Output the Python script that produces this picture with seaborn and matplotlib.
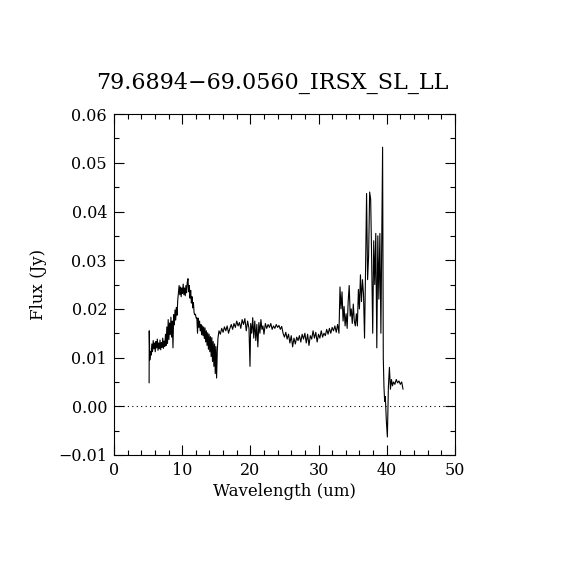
import numpy as np
import pandas as pd
import matplotlib
matplotlib.use("Agg")
import matplotlib.pyplot as plt
from matplotlib.ticker import MultipleLocator
import seaborn as sns

title = "79.6894\u221269.0560_IRSX_SL_LL"

# spectrum: wavelength (um) and flux (Jy)
wavelength = [
    5.15, 5.17, 5.25, 5.35, 5.45, 5.55, 5.65, 5.75, 5.85, 5.95, 6.05, 6.15, 6.25, 6.35, 6.45,
    6.55, 6.65, 6.75, 6.85, 6.95, 7.05, 7.15, 7.25, 7.35, 7.45, 7.55, 7.65, 7.75, 7.85, 7.95,
    8.05, 8.15, 8.25, 8.35, 8.45, 8.55, 8.65, 8.75, 8.85, 8.95, 9.05, 9.15, 9.25, 9.35, 9.45,
    9.55, 9.65, 9.75, 9.85, 9.95, 10.05, 10.15, 10.25, 10.35, 10.45, 10.55, 10.65, 10.75, 10.85,
    10.95, 11.05, 11.15, 11.25, 11.35, 11.45, 11.55, 11.65, 11.75, 11.85, 11.95, 12.05, 12.15,
    12.25, 12.35, 12.45, 12.55, 12.65, 12.75, 12.85, 12.95, 13.05, 13.15, 13.25, 13.35, 13.45,
    13.55, 13.65, 13.75, 13.85, 13.95, 14.05, 14.15, 14.25, 14.35, 14.45, 14.55, 14.65, 14.75,
    14.85, 14.95, 15.05, 15.15, 15.25,
    15.4, 15.6, 15.8, 16.0, 16.2, 16.4, 16.6, 16.8, 17.0, 17.2, 17.4, 17.6, 17.8, 18.0, 18.2,
    18.4, 18.6, 18.8, 19.0, 19.2, 19.4, 19.6, 19.8, 19.95, 20.05, 20.2, 20.35, 20.5, 20.65,
    20.8, 20.95, 21.1, 21.25, 21.4, 21.55, 21.7, 21.85, 22.0, 22.2, 22.4, 22.6, 22.8, 23.0,
    23.2, 23.4, 23.6, 23.8, 24.0, 24.2, 24.4, 24.6, 24.8, 25.0, 25.2, 25.4, 25.6, 25.8, 26.0,
    26.2, 26.4, 26.6, 26.8, 27.0, 27.2, 27.4, 27.6, 27.8, 28.0, 28.2, 28.4, 28.6, 28.8, 29.0,
    29.2, 29.4, 29.6, 29.8, 30.0, 30.2, 30.4, 30.6, 30.8, 31.0, 31.2, 31.4, 31.6, 31.8, 32.0,
    32.2, 32.4, 32.6, 32.8, 33.0, 33.15, 33.3, 33.45, 33.6, 33.75, 33.9, 34.05, 34.2, 34.35,
    34.5, 34.65, 34.8, 34.95, 35.1, 35.25, 35.4, 35.55, 35.7, 35.85, 36.0, 36.15, 36.3, 36.45,
    36.6, 36.75, 36.9, 37.05, 37.2, 37.35, 37.5, 37.65, 37.8, 37.95, 38.1, 38.25, 38.4, 38.55,
    38.7, 38.85, 39.0, 39.15, 39.4, 39.5, 39.6, 39.7, 39.8, 39.95, 40.1, 40.25, 40.4, 40.55,
    40.7, 40.85, 41.0, 41.2, 41.4, 41.6, 41.8, 42.0, 42.2, 42.4,
]
flux = [
    0.0048, 0.0155, 0.0095, 0.0112, 0.0105, 0.0128, 0.0112, 0.0135, 0.0118, 0.0130, 0.0112,
    0.0133, 0.0120, 0.0138, 0.0115, 0.0130, 0.0118, 0.0136, 0.0116, 0.0131, 0.0121, 0.0140,
    0.0119, 0.0134, 0.0123, 0.0148, 0.0125, 0.0163, 0.0129, 0.0178, 0.0137, 0.0171, 0.0147,
    0.0183, 0.0142, 0.0175, 0.0120, 0.0188, 0.0167, 0.0198, 0.0177, 0.0203, 0.0187, 0.0218,
    0.0232, 0.0248, 0.0229, 0.0245, 0.0225, 0.0243, 0.0232, 0.0251, 0.0229, 0.0243, 0.0227,
    0.0248, 0.0233, 0.0255, 0.0262, 0.0235, 0.0248, 0.0222, 0.0238, 0.0212, 0.0225, 0.0202,
    0.0213, 0.0192, 0.0188, 0.0189, 0.0181, 0.0182, 0.0150, 0.0181, 0.0162, 0.0175, 0.0155,
    0.0168, 0.0147, 0.0165, 0.0145, 0.0163, 0.0139, 0.0161, 0.0132, 0.0155, 0.0125, 0.0151,
    0.0117, 0.0148, 0.0112, 0.0143, 0.0102, 0.0141, 0.0092, 0.0133, 0.0082, 0.0128, 0.0067,
    0.0123, 0.0058, 0.0113, 0.0140,
    0.0155, 0.0148, 0.0160, 0.0152, 0.0163, 0.0155, 0.0165, 0.0150, 0.0160, 0.0168, 0.0158,
    0.0170, 0.0162, 0.0175, 0.0165, 0.0172, 0.0160, 0.0178, 0.0168, 0.0180, 0.0155, 0.0175,
    0.0160, 0.0082, 0.0170, 0.0150, 0.0182, 0.0140, 0.0175, 0.0135, 0.0168, 0.0122, 0.0172,
    0.0150, 0.0178, 0.0158, 0.0165, 0.0148, 0.0170, 0.0160, 0.0168, 0.0162, 0.0170, 0.0158,
    0.0165, 0.0160, 0.0168, 0.0162, 0.0166, 0.0158, 0.0164, 0.0150, 0.0142, 0.0152, 0.0138,
    0.0148, 0.0130, 0.0145, 0.0122, 0.0140, 0.0128, 0.0142, 0.0135, 0.0145, 0.0132, 0.0148,
    0.0138, 0.0150, 0.0130, 0.0148, 0.0125, 0.0145, 0.0138, 0.0155, 0.0140, 0.0152, 0.0132,
    0.0148, 0.0140, 0.0155, 0.0142, 0.0150, 0.0145, 0.0158, 0.0148, 0.0160, 0.0150, 0.0162,
    0.0155, 0.0165, 0.0152, 0.0168, 0.0150, 0.0245, 0.0200, 0.0235, 0.0175, 0.0205, 0.0165,
    0.0190, 0.0160, 0.0215, 0.0248, 0.0185, 0.0200, 0.0170, 0.0210, 0.0175, 0.0165, 0.0190,
    0.0165, 0.0240, 0.0200, 0.0270, 0.0215, 0.0260, 0.0230, 0.0140, 0.0280, 0.0437, 0.0260,
    0.0310, 0.0440, 0.0425, 0.0300, 0.0150, 0.0340, 0.0250, 0.0355, 0.0120, 0.0350, 0.0220,
    0.0355, 0.0150, 0.0532, 0.0100, 0.0040, 0.0010, 0.0020, -0.0030, -0.0063, 0.0040, 0.0080,
    0.0035, 0.0055, 0.0042, 0.0050, 0.0045, 0.0055, 0.0048, 0.0052, 0.0045, 0.0050, 0.0035,
]

x_range = [0, 50]
y_range = [-0.01, 0.06]

df = pd.DataFrame({"Wavelength": wavelength, "Flux": flux})

sns.set_style("ticks")
plt.rcParams["font.family"] = ["DejaVu Serif"]
plt.rcParams["text.color"] = "black"
plt.rcParams["axes.labelcolor"] = "black"

fig = plt.figure(figsize=(5.7, 5.7), dpi=100)
ax = fig.add_axes([0.2, 0.2018, 0.598, 0.598])

sns.lineplot(data=df, x="Wavelength", y="Flux", sort=False, estimator=None,
             color="black", linewidth=0.8, ax=ax)
ax.plot(x_range, [0, 0], linestyle=(0, (1, 3)), color="black", linewidth=0.8)

ax.set_xlim(x_range)
ax.set_ylim(y_range)
ax.xaxis.set_major_locator(MultipleLocator(10))
ax.xaxis.set_minor_locator(MultipleLocator(2))
ax.yaxis.set_major_locator(MultipleLocator(0.01))
ax.yaxis.set_minor_locator(MultipleLocator(0.005))
ax.yaxis.set_major_formatter(plt.FuncFormatter(lambda v, p: f"{v:.2f}".replace("-", "\u2212")))

ax.tick_params(which="both", direction="in", top=True, right=True, color="black",
               width=0.8, labelsize=11.5, labelcolor="black", pad=5)
ax.tick_params(which="major", length=7)
ax.tick_params(which="minor", length=3.5)
for sp in ax.spines.values():
    sp.set_color("black")
    sp.set_linewidth(0.8)

ax.set_xlabel("Wavelength (um)", fontsize=12, labelpad=3, color="black")
ax.set_ylabel("Flux (Jy)", fontsize=12, labelpad=8, color="black")
fig.text(0.477, 0.854, title, ha="center", va="center", fontsize=16, color="black")

fig.savefig("out.png", dpi=100, facecolor="white")
